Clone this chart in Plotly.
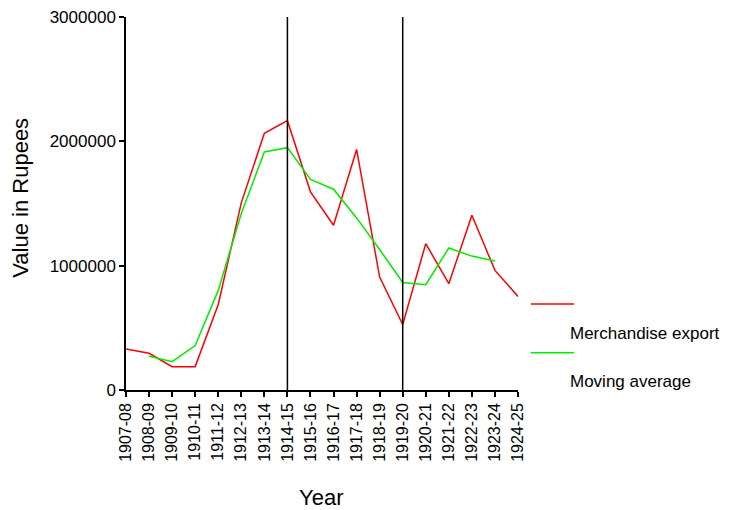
import plotly.graph_objects as go

years = ["1907-08", "1908-09", "1909-10", "1910-11", "1911-12", "1912-13",
         "1913-14", "1914-15", "1915-16", "1916-17", "1917-18", "1918-19",
         "1919-20", "1920-21", "1921-22", "1922-23", "1923-24", "1924-25"]

merchandise_export = [330000, 295000, 188000, 188000, 688000, 1505000,
                      2065000, 2166000, 1594000, 1325000, 1935000, 908000,
                      527000, 1177000, 855000, 1406000, 962000, 752000]

moving_average = [None, 271000, 228000, 357000, 801000, 1419000,
                  1914000, 1949000, 1694000, 1615000, 1384000, 1130000,
                  865000, 847000, 1142000, 1077000, 1037000, None]

marker_years = ["1914-15", "1919-20"]
y_ticks = [0, 1000000, 2000000, 3000000]

FONT = "Liberation Sans, Arial, sans-serif"

fig = go.Figure()

fig.add_trace(go.Scatter(x=years, y=merchandise_export, mode="lines",
                         name="Merchandise export",
                         line=dict(color="#ff0000", width=1.5)))
fig.add_trace(go.Scatter(x=years, y=moving_average, mode="lines",
                         name="Moving average",
                         line=dict(color="#00ee00", width=1.5)))

for my in marker_years:
    fig.add_trace(go.Scatter(x=[my, my], y=[0, 3000000], mode="lines",
                             line=dict(color="black", width=1.5),
                             showlegend=False, hoverinfo="skip"))

# custom legend mimicking the reference layout
legend_items = [("#ff0000", "Merchandise export", 0.2306, 0.1528),
                ("#00ee00", "Moving average", 0.10, 0.0223)]
for col, txt, ly, ty in legend_items:
    fig.add_shape(type="line", xref="paper", yref="paper",
                  x0=1.0332, x1=1.1429, y0=ly, y1=ly,
                  line=dict(color=col, width=1.5))
    fig.add_annotation(xref="paper", yref="paper", x=1.128, y=ty,
                       text=txt, showarrow=False, xanchor="left",
                       yanchor="middle",
                       font=dict(family=FONT, size=17, color="black"))

# axis titles
fig.add_annotation(xref="paper", yref="paper", x=0.497, y=-0.287,
                   text="Year", showarrow=False, xanchor="center",
                   yanchor="middle",
                   font=dict(family=FONT, size=22, color="black"))
fig.add_annotation(xref="paper", yref="paper", x=-0.27, y=0.516,
                   text="Value in Rupees", showarrow=False, textangle=-90,
                   xanchor="center", yanchor="middle",
                   font=dict(family=FONT, size=22, color="black"))

fig.update_layout(
    width=731, height=510,
    margin=dict(l=126, r=213, t=17, b=120, autoexpand=False),
    plot_bgcolor="white", paper_bgcolor="white",
    showlegend=False,
    font=dict(family=FONT, size=16, color="black"),
)

fig.update_xaxes(
    type="category", categoryorder="array", categoryarray=years,
    range=[0, 17], automargin=False,
    tickangle=-90, ticks="outside", ticklen=5, tickwidth=1.5,
    tickcolor="black",
    showline=True, linecolor="black", linewidth=1.5,
    showgrid=False, zeroline=False,
    tickfont=dict(family=FONT, size=16, color="black"),
)

fig.update_yaxes(
    range=[0, 3000000], tickvals=y_ticks, tickformat="d", automargin=False,
    ticks="outside", ticklen=5, tickwidth=1.5, tickcolor="black",
    showline=True, linecolor="black", linewidth=1.5,
    showgrid=False, zeroline=False,
    tickfont=dict(family=FONT, size=17, color="black"),
)

fig.write_html("out.html",
               config={"displayModeBar": False},
               post_script="document.body.style.margin='0px';")
